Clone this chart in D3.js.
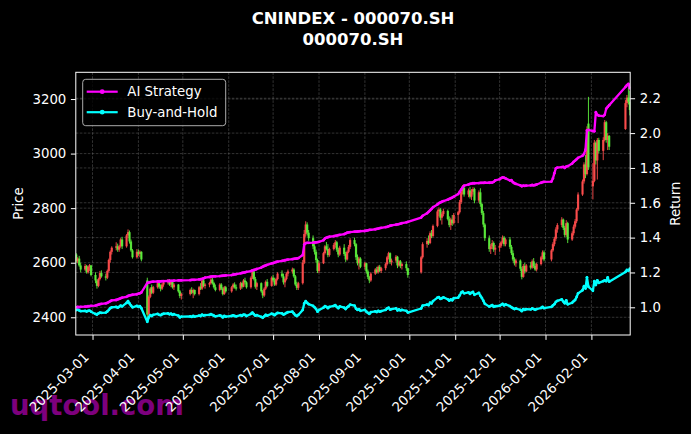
<!DOCTYPE html>
<html><head><meta charset="utf-8">
<script src="https://cdn.jsdelivr.net/npm/d3@7"></script>
<style>body{margin:0;background:#000}svg{display:block}</style>
</head><body>
<svg id="c" width="691" height="434"></svg>
<script>
// ---------------- DATA ----------------
const titleLines = ["CNINDEX - 000070.SH", "000070.SH"];
const seriesNames = ["AI Strategy", "Buy-and-Hold"];
const tradingMonths = [
  ["2025-02",[18,19,20,21,24,25,26,27,28]],
  ["2025-03",[3,4,5,6,7,10,11,12,13,14,17,18,19,20,21,24,25,26,27,28,31]],
  ["2025-04",[1,2,3,7,8,9,10,11,14,15,16,17,18,21,22,23,24,25,28,29,30]],
  ["2025-05",[6,7,8,9,12,13,14,15,16,19,20,21,22,23,26,27,28,29,30]],
  ["2025-06",[3,4,5,6,9,10,11,12,13,16,17,18,19,20,23,24,25,26,27,30]],
  ["2025-07",[1,2,3,4,7,8,9,10,11,14,15,16,17,18,21,22,23,24,25,28,29,30,31]],
  ["2025-08",[1,4,5,6,7,8,11,12,13,14,15,18,19,20,21,22,25,26,27,28,29]],
  ["2025-09",[1,2,3,4,5,8,9,10,11,12,15,16,17,18,19,22,23,24,25,26,29,30]],
  ["2025-10",[9,10,13,14,15,16,17,20,21,22,23,24,27,28,29,30,31]],
  ["2025-11",[3,4,5,6,7,10,11,12,13,14,17,18,19,20,21,24,25,26,27,28]],
  ["2025-12",[1,2,3,4,5,8,9,10,11,12,15,16,17,18,19,22,23,24,25,26,29,30,31]],
  ["2026-01",[5,6,7,8,9,12,13,14,15,16,19,20,21,22,23,26,27,28,29,30]],
  ["2026-02",[2,3,4,5,6,9,10,11,12,13,24,25,26,27]]
];
// [open, high, low, close]
const ohlc = [
 [2630,2635,2600,2605],[2605,2620,2598,2615],[2615,2625,2585,2590],[2590,2600,2565,2575],[2575,2595,2570,2588],[2588,2592,2560,2565],[2565,2590,2560,2585],[2585,2595,2570,2590],[2590,2592,2550,2555],
 [2555,2565,2525,2535],[2535,2540,2505,2515],[2515,2545,2510,2540],[2540,2570,2535,2562],[2562,2572,2545,2550],[2550,2560,2535,2545],[2545,2575,2540,2570],[2570,2615,2565,2610],[2610,2645,2600,2640],[2640,2660,2630,2655],[2655,2675,2645,2660],[2660,2670,2640,2648],[2648,2665,2640,2660],[2660,2690,2655,2685],[2685,2695,2650,2660],[2660,2705,2655,2700],[2700,2722,2690,2712],[2712,2718,2670,2678],[2678,2685,2640,2645],[2645,2650,2615,2620],[2620,2650,2615,2640],
 [2640,2648,2625,2632],[2632,2645,2620,2640],[2640,2642,2605,2612],[2535,2545,2380,2410],[2410,2480,2400,2475],[2475,2510,2470,2505],[2510,2520,2485,2490],[2490,2515,2485,2510],[2510,2530,2505,2525],[2525,2530,2505,2512],[2512,2520,2495,2505],[2505,2525,2500,2520],[2520,2532,2512,2528],[2528,2540,2520,2535],[2535,2540,2515,2520],[2520,2535,2510,2530],[2530,2535,2505,2510],[2510,2525,2500,2520],[2520,2522,2490,2495],[2495,2500,2470,2478],[2478,2490,2465,2485],
 [2485,2505,2480,2500],[2500,2510,2485,2490],[2490,2505,2470,2500],[2500,2502,2480,2485],[2485,2515,2480,2510],[2510,2525,2500,2505],[2505,2540,2500,2535],[2535,2540,2510,2515],[2515,2525,2505,2520],[2520,2530,2510,2525],[2525,2545,2520,2538],[2538,2545,2520,2525],[2525,2530,2505,2510],[2510,2520,2495,2500],[2500,2525,2495,2520],[2520,2525,2500,2505],[2505,2510,2480,2485],[2485,2515,2482,2510],[2510,2515,2490,2495],
 [2495,2515,2490,2510],[2510,2525,2505,2520],[2520,2528,2505,2510],[2510,2520,2498,2505],[2505,2530,2500,2525],[2525,2530,2505,2512],[2512,2540,2510,2535],[2535,2545,2520,2528],[2528,2532,2505,2510],[2510,2550,2505,2545],[2545,2575,2540,2568],[2568,2572,2535,2540],[2540,2548,2505,2512],[2512,2530,2500,2525],[2525,2528,2490,2495],[2495,2500,2470,2480],[2480,2510,2475,2505],[2505,2535,2500,2530],[2530,2540,2510,2515],[2515,2550,2512,2545],
 [2545,2555,2530,2535],[2535,2545,2515,2520],[2520,2545,2515,2540],[2540,2565,2535,2560],[2560,2572,2545,2550],[2550,2560,2520,2528],[2528,2545,2510,2540],[2540,2565,2535,2560],[2560,2575,2550,2568],[2568,2582,2560,2575],[2575,2580,2545,2550],[2550,2555,2515,2520],[2520,2530,2500,2508],[2508,2530,2500,2525],[2525,2610,2520,2600],[2600,2720,2595,2705],[2705,2752,2695,2740],[2740,2748,2700,2710],[2710,2720,2680,2690],[2690,2700,2650,2660],[2660,2668,2630,2640],[2640,2648,2600,2610],[2610,2615,2562,2570],
 [2570,2605,2562,2598],[2598,2640,2595,2635],[2635,2665,2630,2660],[2660,2676,2645,2650],[2650,2668,2620,2628],[2628,2655,2622,2650],[2650,2672,2645,2665],[2665,2683,2655,2675],[2675,2680,2640,2648],[2648,2655,2620,2630],[2630,2662,2625,2655],[2655,2668,2625,2632],[2632,2640,2603,2612],[2612,2645,2608,2640],[2640,2665,2635,2658],[2658,2690,2650,2683],[2683,2692,2660,2668],[2668,2672,2610,2620],[2620,2630,2590,2598],[2598,2622,2575,2615],[2615,2620,2580,2585],
 [2585,2603,2575,2598],[2598,2600,2560,2568],[2568,2575,2540,2548],[2548,2552,2525,2535],[2535,2565,2530,2560],[2560,2580,2555,2575],[2575,2585,2560,2565],[2565,2590,2560,2585],[2585,2592,2565,2570],[2570,2585,2562,2580],[2580,2600,2572,2595],[2595,2625,2590,2620],[2620,2640,2612,2635],[2635,2638,2595,2602],[2602,2615,2590,2608],[2608,2628,2600,2622],[2622,2625,2580,2590],[2590,2610,2585,2605],[2605,2610,2580,2588],[2588,2600,2575,2595],[2595,2605,2570,2580],[2580,2582,2545,2555],
 [2565,2625,2560,2620],[2620,2675,2615,2668],[2668,2690,2655,2680],[2680,2700,2665,2672],[2672,2715,2668,2708],[2708,2720,2690,2698],[2698,2740,2693,2735],[2735,2795,2730,2788],[2788,2803,2770,2795],[2795,2800,2755,2765],[2765,2785,2740,2778],[2778,2798,2770,2790],[2790,2795,2755,2760],[2760,2770,2730,2738],[2738,2765,2720,2758],[2758,2775,2735,2745],[2745,2782,2740,2775],
 [2775,2790,2745,2785],[2785,2830,2780,2822],[2822,2870,2815,2862],[2862,2885,2850,2875],[2875,2880,2842,2850],[2850,2872,2840,2865],[2865,2878,2835,2842],[2842,2870,2830,2860],[2860,2877,2850,2870],[2870,2875,2818,2828],[2828,2865,2820,2858],[2858,2873,2805,2815],[2815,2820,2775,2782],[2782,2790,2730,2740],[2740,2745,2680,2690],[2690,2700,2640,2650],[2650,2668,2632,2660],[2660,2683,2650,2672],[2672,2678,2640,2648],[2648,2665,2628,2655],
 [2655,2672,2640,2662],[2662,2680,2655,2675],[2675,2700,2670,2692],[2692,2698,2660,2668],[2668,2690,2660,2685],[2685,2694,2650,2658],[2658,2665,2628,2635],[2635,2645,2605,2612],[2612,2620,2590,2598],[2598,2615,2585,2608],[2608,2612,2570,2578],[2578,2585,2539,2548],[2548,2595,2545,2588],[2588,2600,2560,2568],[2568,2595,2565,2590],[2590,2603,2575,2582],[2582,2612,2578,2605],[2605,2617,2580,2588],[2588,2598,2570,2575],[2575,2600,2568,2595],[2595,2625,2590,2620],[2620,2645,2612,2638],[2638,2645,2605,2612],
 [2612,2650,2605,2645],[2645,2675,2640,2668],[2668,2695,2660,2688],[2688,2730,2680,2722],[2722,2745,2710,2738],[2738,2767,2730,2758],[2758,2762,2720,2728],[2728,2735,2694,2702],[2702,2756,2695,2745],[2745,2750,2672,2685],[2685,2715,2680,2708],[2708,2740,2700,2732],[2732,2760,2725,2752],[2752,2800,2745,2795],[2795,2858,2790,2850],[2850,2905,2845,2898],[2898,2968,2890,2960],[2960,2995,2910,2925],[2925,3100,2920,3090],[3110,3208,2940,2950],
 [2880,2965,2832,2900],[2900,3050,2895,3040],[3040,3045,2960,2975],[2975,3057,2905,3050],[3050,3058,3000,3010],[3010,3060,2976,3050],[3050,3123,3045,3115],[3115,3120,3040,3050],[3050,3075,3013,3065],[3065,3068,3013,3025],[3090,3196,3087,3185],[3185,3215,3170,3205],[3205,3250,3180,3190],[3190,3230,3140,3160]
];
const aiReturn = [
 1.000,1.002,1.001,1.003,1.004,1.004,1.006,1.007,1.008,
 1.010,1.012,1.015,1.018,1.020,1.022,1.025,1.030,1.035,1.040,1.042,1.045,1.048,1.052,1.055,1.060,1.065,1.068,1.070,1.072,1.075,
 1.078,1.080,1.085,1.140,1.142,1.145,1.146,1.147,1.148,1.148,1.149,1.150,1.150,1.151,1.151,1.152,1.152,1.153,1.154,1.155,1.155,
 1.156,1.157,1.158,1.158,1.160,1.161,1.163,1.166,1.170,1.174,1.176,1.177,1.178,1.178,1.179,1.180,1.181,1.182,1.183,
 1.185,1.187,1.189,1.190,1.195,1.197,1.199,1.201,1.203,1.208,1.212,1.214,1.216,1.220,1.228,1.233,1.237,1.240,1.244,1.252,
 1.254,1.257,1.260,1.262,1.266,1.268,1.270,1.272,1.274,1.276,1.278,1.279,1.280,1.282,1.300,1.360,1.368,1.370,1.370,1.371,1.372,1.373,1.374,
 1.376,1.385,1.395,1.400,1.402,1.405,1.408,1.410,1.412,1.414,1.416,1.420,1.424,1.428,1.430,1.432,1.434,1.434,1.435,1.436,1.437,
 1.438,1.440,1.442,1.444,1.445,1.448,1.450,1.452,1.454,1.456,1.460,1.462,1.465,1.468,1.470,1.474,1.476,1.478,1.480,1.483,1.488,1.490,
 1.515,1.525,1.540,1.548,1.556,1.565,1.575,1.590,1.598,1.602,1.606,1.610,1.618,1.622,1.626,1.630,1.635,
 1.650,1.662,1.675,1.688,1.698,1.705,1.708,1.710,1.712,1.712,1.713,1.714,1.714,1.714,1.715,1.715,1.716,1.716,1.720,1.728,
 1.735,1.742,1.745,1.744,1.740,1.728,1.730,1.718,1.712,1.708,1.700,1.695,1.698,1.697,1.698,1.700,1.702,1.700,1.702,1.705,1.715,1.718,1.720,
 1.722,1.740,1.770,1.798,1.802,1.805,1.806,1.800,1.808,1.810,1.825,1.835,1.842,1.850,1.858,1.870,1.880,1.905,2.015,2.018,
 2.012,2.010,2.120,2.105,2.100,2.098,2.105,2.140,2.150,2.160,2.265,2.275,2.282,2.258
];
const bhReturn = [
 0.984,0.986,0.982,0.978,0.980,0.976,0.979,0.981,0.975,
 0.962,0.958,0.965,0.970,0.968,0.970,0.976,0.985,0.995,1.000,1.002,0.998,1.003,1.010,1.005,1.025,1.036,1.022,1.010,1.000,1.008,
 1.003,1.006,0.995,0.917,0.942,0.955,0.950,0.957,0.962,0.957,0.955,0.960,0.963,0.965,0.960,0.963,0.957,0.960,0.952,0.942,0.946,
 0.948,0.945,0.950,0.946,0.952,0.950,0.958,0.953,0.955,0.956,0.960,0.956,0.952,0.948,0.953,0.950,0.942,0.950,0.946,
 0.950,0.954,0.950,0.948,0.955,0.951,0.958,0.956,0.950,0.962,0.970,0.960,0.952,0.955,0.945,0.940,0.948,0.957,0.952,0.963,
 0.960,0.955,0.962,0.968,0.965,0.958,0.962,0.968,0.972,0.975,0.965,0.955,0.950,0.956,0.985,1.022,1.035,1.025,1.018,1.008,1.000,0.990,0.975,
 0.985,0.998,1.006,1.003,0.995,1.002,1.008,1.012,1.002,0.995,1.005,0.998,0.990,1.000,1.006,1.015,1.010,0.992,0.985,0.990,0.980,
 0.985,0.975,0.968,0.962,0.972,0.977,0.973,0.980,0.975,0.978,0.985,0.993,0.998,0.987,0.990,0.994,0.982,0.988,0.982,0.985,0.980,0.970,
 0.993,1.010,1.015,1.012,1.026,1.022,1.036,1.056,1.058,1.048,1.052,1.057,1.046,1.038,1.045,1.040,1.052,
 1.055,1.068,1.084,1.090,1.080,1.086,1.077,1.084,1.088,1.072,1.083,1.066,1.054,1.038,1.020,1.004,1.008,1.013,1.003,1.006,
 1.009,1.014,1.020,1.011,1.017,1.007,1.000,0.995,0.990,0.993,0.985,0.978,0.990,0.985,0.990,0.988,0.993,0.990,0.986,0.990,0.996,1.002,0.995,
 1.002,1.011,1.018,1.031,1.037,1.045,1.033,1.023,1.040,1.017,1.026,1.035,1.042,1.059,1.080,1.098,1.121,1.108,1.172,1.118,
 1.095,1.150,1.128,1.155,1.140,1.150,1.155,1.150,1.172,1.147,1.203,1.214,1.210,1.222
];
const xTickLabels = ["2025-03-01","2025-04-01","2025-05-01","2025-06-01","2025-07-01","2025-08-01","2025-09-01","2025-10-01","2025-11-01","2025-12-01","2026-01-01","2026-02-01"];
const priceTicks = [2400,2600,2800,3000,3200];
const returnTicks = [1.0,1.2,1.4,1.6,1.8,2.0,2.2];
const xDomain = ["2025-02-17T17:00","2026-02-27T05:00"];
const priceDomain = [2335, 3298];
const returnDomain = [0.841, 2.349];

// ---------------- CHART ----------------
const W = 691, H = 434;
const m = {l: 75.8, r: 630.2, t: 72.3, b: 335};
const FONT = "DejaVu Sans, Verdana, sans-serif";
const svg = d3.select("#c").attr("font-family", FONT);
svg.append("rect").attr("width", W).attr("height", H).attr("fill", "#000");

const pd = d3.timeParse("%Y-%m-%d");
const dates = [];
tradingMonths.forEach(([ym, days]) => days.forEach(d => dates.push(pd(ym + "-" + String(d).padStart(2, "0")))));
const n = Math.min(dates.length, ohlc.length, aiReturn.length, bhReturn.length);

const x = d3.scaleTime().domain(xDomain.map(s => new Date(s))).range([m.l, m.r]);
const yP = d3.scaleLinear().domain(priceDomain).range([m.b, m.t]);
const yR = d3.scaleLinear().domain(returnDomain).range([m.b, m.t]);
const xTicks = xTickLabels.map(pd);

// watermark (behind labels)
svg.append("text").attr("x", 10).attr("y", 415).attr("font-size", 27.5).attr("font-weight", "bold")
  .attr("fill", "#8a008a").attr("fill-opacity", 0.92).text("uqtool.com");

// clip
svg.append("clipPath").attr("id", "clip").append("rect")
  .attr("x", m.l).attr("y", m.t).attr("width", m.r - m.l).attr("height", m.b - m.t);

// grid
const grid = svg.append("g").attr("stroke", "#6a6a6a").attr("stroke-width", 0.6)
  .attr("stroke-dasharray", "2.6,1.4").attr("stroke-opacity", 0.8);
xTicks.forEach(d => grid.append("line").attr("x1", x(d)).attr("x2", x(d)).attr("y1", m.t).attr("y2", m.b));
priceTicks.forEach(v => grid.append("line").attr("x1", m.l).attr("x2", m.r).attr("y1", yP(v)).attr("y2", yP(v)));
returnTicks.forEach(v => grid.append("line").attr("x1", m.l).attr("x2", m.r).attr("y1", yR(v)).attr("y2", yR(v)));

// candles
const UP = "#ff4d4d", DOWN = "#5cf03c";
const cg = svg.append("g").attr("clip-path", "url(#clip)");
for (let i = 0; i < n; i++) {
  const [o, h, l, c] = ohlc[i];
  const col = c >= o ? UP : DOWN;
  const cx = x(dates[i]);
  cg.append("line").attr("x1", cx).attr("x2", cx).attr("y1", yP(h)).attr("y2", yP(l))
    .attr("stroke", col).attr("stroke-width", 1).attr("stroke-opacity", 0.9);
  const y0 = yP(Math.max(o, c)), y1 = yP(Math.min(o, c));
  cg.append("rect").attr("x", cx - 1.1).attr("width", 2.2).attr("y", y0).attr("height", Math.max(0.8, y1 - y0))
    .attr("fill", col).attr("fill-opacity", 0.9);
}

// lines
const idx = d3.range(n);
const lineAI = d3.line().x(i => x(dates[i])).y(i => yR(aiReturn[i]));
const lineBH = d3.line().x(i => x(dates[i])).y(i => yR(bhReturn[i]));
const lg = svg.append("g").attr("clip-path", "url(#clip)");
[[lineBH, bhReturn, "#00ffff"], [lineAI, aiReturn, "#ff00ff"]].forEach(([gen, arr, col]) => {
  lg.append("path").attr("d", gen(idx)).attr("fill", "none").attr("stroke", col)
    .attr("stroke-width", 2.3).attr("stroke-linejoin", "round");
  lg.append("g").selectAll("circle").data(idx).join("circle")
    .attr("cx", i => x(dates[i])).attr("cy", i => yR(arr[i])).attr("r", 1.4).attr("fill", col);
});

// spines
svg.append("rect").attr("x", m.l).attr("y", m.t).attr("width", m.r - m.l).attr("height", m.b - m.t)
  .attr("fill", "none").attr("stroke", "#fff").attr("stroke-width", 1);

// axes
const FS = 13.3;
function styleAxis(g) {
  g.select(".domain").remove();
  g.selectAll(".tick line").attr("stroke", "#fff").attr("stroke-width", 1);
  g.selectAll(".tick text").attr("fill", "#fff").attr("font-size", FS).attr("font-family", FONT);
}
const gx = svg.append("g").attr("transform", `translate(0,${m.b})`)
  .call(d3.axisBottom(x).tickValues(xTicks).tickFormat(d3.timeFormat("%Y-%m-%d")).tickSize(4.9).tickSizeOuter(0));
styleAxis(gx);
gx.selectAll(".tick text").attr("text-anchor", "end").attr("dy", null).attr("y", null)
  .attr("transform", "translate(-3.4,23) rotate(-45)");

const gyl = svg.append("g").attr("transform", `translate(${m.l},0)`)
  .call(d3.axisLeft(yP).tickValues(priceTicks).tickFormat(d3.format("d")).tickSize(4.9).tickPadding(4.6));
styleAxis(gyl);
const gyr = svg.append("g").attr("transform", `translate(${m.r},0)`)
  .call(d3.axisRight(yR).tickValues(returnTicks).tickFormat(d3.format(".1f")).tickSize(4.9).tickPadding(4.6));
styleAxis(gyr);

// axis labels
const cy = (m.t + m.b) / 2;
svg.append("text").attr("transform", `translate(23,${cy}) rotate(-90)`).attr("text-anchor", "middle")
  .attr("fill", "#fff").attr("font-size", FS).text("Price");
svg.append("text").attr("transform", `translate(680,${cy}) rotate(-90)`).attr("text-anchor", "middle")
  .attr("fill", "#fff").attr("font-size", FS).text("Return");

// title
const tx = (m.l + m.r) / 2;
titleLines.forEach((t, i) => svg.append("text").attr("x", tx).attr("y", 24 + i * 21).attr("text-anchor", "middle")
  .attr("fill", "#fff").attr("font-size", 16.5).attr("font-weight", "bold").text(t));

// legend
const leg = svg.append("g");
leg.append("rect").attr("x", 82.7).attr("y", 79.3).attr("width", 143).attr("height", 46.4).attr("rx", 3)
  .attr("fill", "#000").attr("fill-opacity", 0.8).attr("stroke", "#bdbdbd").attr("stroke-width", 0.9);
[["#ff00ff", 91.7], ["#00ffff", 112.2]].forEach(([col, yy], i) => {
  leg.append("line").attr("x1", 86.7).attr("x2", 117.7).attr("y1", yy).attr("y2", yy)
    .attr("stroke", col).attr("stroke-width", 2.2);
  leg.append("circle").attr("cx", 102.2).attr("cy", yy).attr("r", 2.4).attr("fill", col);
  leg.append("text").attr("x", 127.3).attr("y", yy).attr("dy", "0.36em").attr("fill", "#fff")
    .attr("font-size", FS).text(seriesNames[i]);
});
</script>
</body></html>
